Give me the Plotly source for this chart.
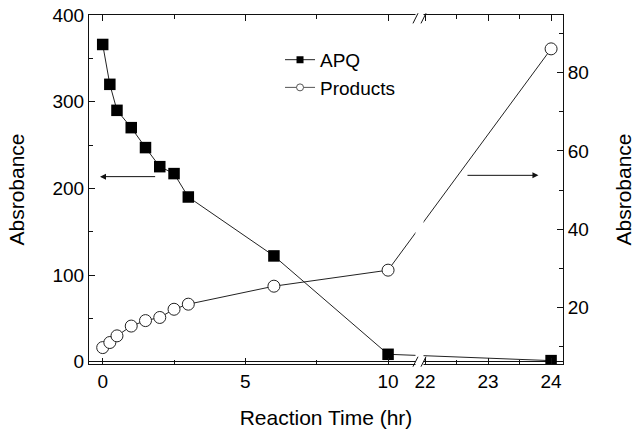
import plotly.graph_objects as go

# ---------------- data ----------------
time_hr = [0, 0.25, 0.5, 1, 1.5, 2, 2.5, 3, 6, 10, 24]
apq_abs = [366, 320, 290, 270, 247, 225, 217, 190, 122, 8.5, 1.2]
products_abs = [9.7, 11.0, 12.7, 15.2, 16.6, 17.4, 19.5, 20.8, 25.4, 29.5, 86.1]

x_tick_values = [0, 5, 10, 22, 23, 24]
x_tick_labels = ["0", "5", "10", "22", "23", "24"]
x_minor_values = [2.5, 7.5, 22.5, 23.5]

left_title = "Absrobance"
right_title = "Absrobance"
x_title = "Reaction Time (hr)"

# ---------------- broken x axis (0-11 | 22-24) ----------------
BREAK_LO = 11.0
BREAK_HI = 21.97
GAP = 0.23
RIGHT_STRETCH = 2.208


def bx(t):
    if t <= BREAK_LO:
        return t
    return BREAK_LO + GAP + (t - BREAK_HI) * RIGHT_STRETCH


xu = [bx(t) for t in time_hr]

FONT = "Arial, 'Liberation Sans', sans-serif"
INK = "#111111"

fig = go.Figure()

fig.add_trace(go.Scatter(
    x=xu, y=apq_abs, mode="lines+markers", name="APQ", showlegend=False,
    line=dict(color="#222222", width=1),
    marker=dict(symbol="square", size=11.5, color="black", line=dict(width=0)),
    yaxis="y",
))
fig.add_trace(go.Scatter(
    x=xu, y=products_abs, mode="lines+markers", name="Products", showlegend=False,
    line=dict(color="#222222", width=1),
    marker=dict(symbol="circle", size=12, color="white", line=dict(color="#222222", width=1)),
    yaxis="y2",
))
# legend proxies (small symbols as in the reference)
fig.add_trace(go.Scatter(
    x=[None], y=[None], mode="lines+markers", name="APQ",
    line=dict(color="#222222", width=1),
    marker=dict(symbol="square", size=7, color="black"),
))
fig.add_trace(go.Scatter(
    x=[None], y=[None], mode="lines+markers", name="Products",
    line=dict(color="#555555", width=1),
    marker=dict(symbol="circle", size=7, color="white", line=dict(color="#555555", width=1)),
))

axis_common = dict(
    showline=True, linecolor=INK, linewidth=1,
    ticks="inside", ticklen=6, tickwidth=1, tickcolor=INK,
    showgrid=False, automargin=False,
    tickfont=dict(family=FONT, size=19, color="black"),
)

fig.update_layout(
    width=644, height=430,
    margin=dict(l=89, r=81, t=15, b=66),
    paper_bgcolor="white", plot_bgcolor="white",
    font=dict(family=FONT, color="black"),
    xaxis=dict(
        **axis_common,
        range=[-0.48, 16.13],
        tickmode="array",
        tickvals=[bx(v) for v in x_tick_values],
        ticktext=x_tick_labels,
        minor=dict(tickmode="array", tickvals=[bx(v) for v in x_minor_values],
                   ticks="inside", ticklen=4, tickcolor=INK),
        mirror="ticks",
        zeroline=False,
        title=dict(text=x_title, font=dict(family=FONT, size=21), standoff=19),
    ),
    yaxis=dict(
        **axis_common,
        range=[-2.7, 400],
        dtick=100, tick0=0,
        minor=dict(dtick=50, tick0=0, ticks="inside", ticklen=4, tickcolor=INK),
        zeroline=True, zerolinecolor=INK, zerolinewidth=1,
        title=dict(text=left_title, font=dict(family=FONT, size=21), standoff=22),
    ),
    yaxis2=dict(
        **axis_common,
        overlaying="y", side="right",
        range=[5.5, 94.76],
        dtick=20, tick0=0,
        minor=dict(dtick=10, tick0=0, ticks="inside", ticklen=4, tickcolor=INK),
        zeroline=False,
        title=dict(text=right_title, font=dict(family=FONT, size=21), standoff=28),
    ),
    legend=dict(
        x=0.403, y=0.926, xanchor="left", yanchor="top",
        bgcolor="rgba(0,0,0,0)",
        font=dict(family=FONT, size=19, color="black"),
        itemclick=False,
    ),
    annotations=[
        dict(x=-0.095, y=213.5, ax=1.89, ay=213.5, xref="x", yref="y", axref="x", ayref="y",
             text="", showarrow=True, arrowhead=2, arrowsize=1.2, arrowwidth=1, arrowcolor=INK),
        dict(x=15.27, y=215.0, ax=12.73, ay=215.0, xref="x", yref="y", axref="x", ayref="y",
             text="", showarrow=True, arrowhead=2, arrowsize=1.2, arrowwidth=1, arrowcolor=INK),
    ],
    shapes=[
        # white gap of the axis break
        dict(type="rect", xref="paper", yref="paper", x0=0.6888, x1=0.7057, y0=-0.02, y1=1.03,
             fillcolor="white", line=dict(width=0), layer="above"),
        # break marks (bottom)
        dict(type="line", xref="paper", yref="paper", x0=0.6835, y0=-0.0077, x1=0.6941, y1=0.0209,
             line=dict(color=INK, width=1), layer="above"),
        dict(type="line", xref="paper", yref="paper", x0=0.7004, y0=-0.0077, x1=0.7110, y1=0.0209,
             line=dict(color=INK, width=1), layer="above"),
        # break marks (top)
        dict(type="line", xref="paper", yref="paper", x0=0.6835, y0=0.976, x1=0.6941, y1=1.005,
             line=dict(color=INK, width=1), layer="above"),
        dict(type="line", xref="paper", yref="paper", x0=0.7004, y0=0.976, x1=0.7110, y1=1.005,
             line=dict(color=INK, width=1), layer="above"),
    ],
)

fig.write_html("out.html")
